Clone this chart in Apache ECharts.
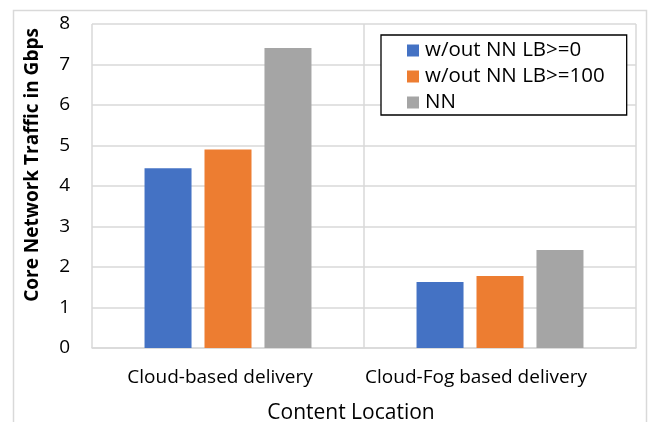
<!DOCTYPE html>
<html>
<head>
<meta charset="utf-8">
<script src="https://cdn.jsdelivr.net/npm/echarts@6/dist/echarts.min.js"></script>
<style>
  html, body { margin: 0; padding: 0; background: #ffffff; }
  #chart { width: 655px; height: 422px; }
</style>
</head>
<body>
<div id="chart"></div>
<script>
// Core network traffic by content location
const categories = ['Cloud-based delivery', 'Cloud-Fog based delivery'];
const seriesNames = ['w/out NN LB>=0', 'w/out NN LB>=100', 'NN'];
const lb0Values = [4.44, 1.63];
const lb100Values = [4.90, 1.78];
const nnValues = [7.41, 2.42];
const yTicks = [0, 1, 2, 3, 4, 5, 6, 7, 8];

const colors = ['#4472C4', '#ED7D31', '#A5A5A5'];
const FONT = 'Open Sans';
const gridColor = '#d9d9d9';

const chart = echarts.init(document.getElementById('chart'), null, { renderer: 'canvas' });

function bar(name, data, color) {
  return {
    name: name,
    type: 'bar',
    data: data,
    barWidth: 47,
    barGap: '27.6%',
    itemStyle: { color: color },
    emphasis: { disabled: true }
  };
}

chart.setOption({
  animation: false,
  backgroundColor: '#ffffff',
  textStyle: { fontFamily: FONT },
  grid: { left: 92, right: 19, top: 24, bottom: 74, containLabel: false, outerBoundsMode: 'none' },
  legend: {
    orient: 'vertical',
    left: 381,
    top: 35,
    data: seriesNames,
    icon: 'rect',
    itemWidth: 12,
    itemHeight: 12,
    itemGap: 5,
    padding: [5, 22, 2, 26],
    borderColor: '#000000',
    borderWidth: 1.3,
    backgroundColor: '#ffffff',
    selectedMode: false,
    textStyle: { fontFamily: FONT, fontSize: 20.5, color: '#000000', lineHeight: 20, padding: [0, 0, 0, 1] }
  },
  xAxis: {
    type: 'category',
    data: categories,
    name: 'Content Location',
    nameLocation: 'middle',
    nameGap: 55,
    nameTextStyle: { fontFamily: FONT, fontSize: 21, color: '#000000', padding: [0, 26, 0, 0] },
    axisLine: { show: true, lineStyle: { color: gridColor, width: 1.5 } },
    axisTick: { show: false },
    splitLine: { show: true, lineStyle: { color: gridColor, width: 1.5 } },
    axisLabel: {
      interval: 0,
      hideOverlap: false,
      margin: 20,
      fontFamily: FONT,
      fontSize: 19,
      color: '#000000',
      formatter: function (value, idx) {
        return idx === 0 ? '{a|' + value + '}' : '{b|' + value + '}';
      },
      rich: {
        a: { fontFamily: FONT, fontSize: 19, color: '#000000', padding: [0, 16, 0, 0] },
        b: { fontFamily: FONT, fontSize: 19, color: '#000000', padding: [0, 48, 0, 0] }
      }
    }
  },
  yAxis: {
    type: 'value',
    min: yTicks[0],
    max: yTicks[yTicks.length - 1],
    interval: 1,
    name: 'Core Network Traffic in Gbps',
    nameLocation: 'middle',
    nameGap: 50,
    nameRotate: 90,
    nameTextStyle: { fontFamily: FONT, fontSize: 19, fontWeight: 'bold', color: '#000000', padding: [0, 0, 0, 42] },
    axisLine: { show: false },
    axisTick: { show: false },
    splitLine: { show: true, lineStyle: { color: gridColor, width: 1.5 } },
    axisLabel: { margin: 22, fontFamily: FONT, fontSize: 19, color: '#000000' }
  },
  graphic: [{
    type: 'rect',
    silent: true,
    z: -1,
    shape: { x: 13.5, y: 10.5, width: 633, height: 430 },
    style: { fill: null, stroke: gridColor, lineWidth: 1.5 }
  }],
  series: [
    bar(seriesNames[0], lb0Values, colors[0]),
    bar(seriesNames[1], lb100Values, colors[1]),
    bar(seriesNames[2], nnValues, colors[2])
  ]
});
</script>
</body>
</html>
